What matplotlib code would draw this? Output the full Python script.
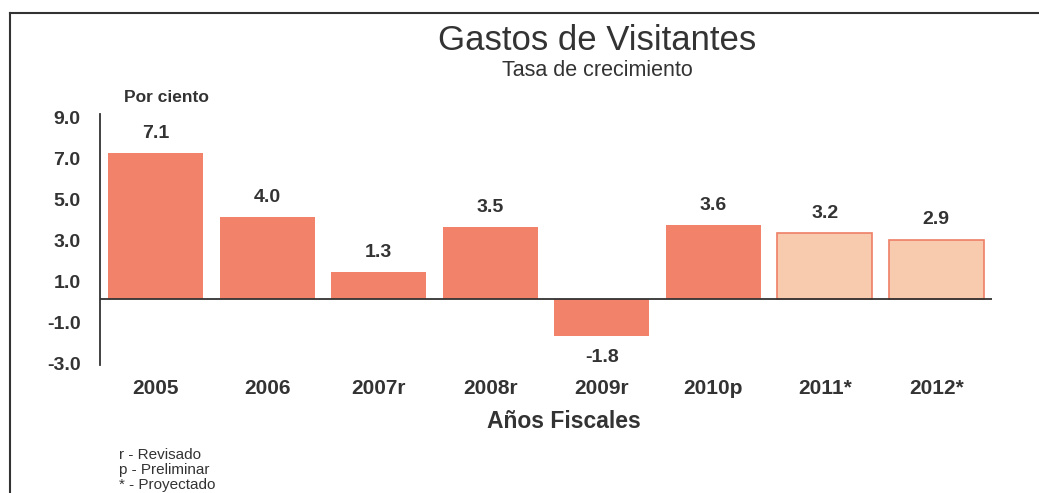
import numpy as np
import matplotlib
matplotlib.use("Agg")
import matplotlib.pyplot as plt
from matplotlib.transforms import ScaledTranslation

plt.rcParams['font.family'] = ['Liberation Sans', 'DejaVu Sans']

# data
years = ["2005", "2006", "2007r", "2008r", "2009r", "2010p", "2011*", "2012*"]
growth = [7.1, 4.0, 1.3, 3.5, -1.8, 3.6, 3.2, 2.9]
projected = [False, False, False, False, False, False, True, True]
yticks = [9.0, 7.0, 5.0, 3.0, 1.0, -1.0, -3.0]
notes = ["r - Revisado", "p - Preliminar", "* - Proyectado"]

W, H = 1039, 493
fig = plt.figure(figsize=(W / 100, H / 100), dpi=100)
fig.patch.set_facecolor("white")

# frame around the chart (only top and left edges visible)
fig.add_artist(plt.Line2D([10 / W, 10 / W], [0, 1 - 13 / H], color="#333333", lw=1.5))
fig.add_artist(plt.Line2D([10 / W, 1], [1 - 13 / H, 1 - 13 / H], color="#333333", lw=1.5))

# axes placed in pixel space: x 100..992, y 114..365
ax = fig.add_axes([100 / W, 1 - 365 / H, (992 - 100) / W, (365 - 114) / H])
ax.set_xlim(-0.5, len(years) - 0.5)
ax.set_ylim(-3.2, 9)

txt = "#333333"
x = np.arange(len(years))
for i, (v, p) in enumerate(zip(growth, projected)):
    if p:
        ax.bar(x[i], v, width=0.85, color="#F9CBAE", edgecolor="#EE7F66", lw=1.2, zorder=2)
    else:
        ax.bar(x[i], v, width=0.85, color="#F2836A", edgecolor="none", zorder=2)
    if v >= 0:
        ax.annotate(f"{v:.1f}", (x[i], v), xytext=(0, 8), textcoords="offset points",
                    ha="center", va="bottom", fontsize=14, fontweight="bold", color=txt)
    else:
        ax.annotate(f"{v:.1f}", (x[i], v), xytext=(0, -9), textcoords="offset points",
                    ha="center", va="top", fontsize=14, fontweight="bold", color=txt)

ax.axhline(0, color="#333333", lw=1.3, zorder=3)

for s in ["top", "right", "bottom"]:
    ax.spines[s].set_visible(False)
ax.spines["left"].set_color("#333333")
ax.spines["left"].set_linewidth(1.3)

ax.set_yticks(yticks)
ax.set_yticklabels([f"{t:.1f}" for t in yticks], fontsize=14, fontweight="bold", color=txt)
ax.tick_params(axis="y", length=0, pad=14)
shift = ScaledTranslation(0, -3 / 100, fig.dpi_scale_trans)
for lab in ax.get_yticklabels():
    lab.set_transform(lab.get_transform() + shift)
ax.set_xticks(x)
ax.set_xticklabels(years, fontsize=15, fontweight="bold", color=txt)
ax.tick_params(axis="x", length=0, pad=10)

fig.text(597 / W, 1 - 41 / H, "Gastos de Visitantes", ha="center", va="center",
         fontsize=25, color=txt)
fig.text(597 / W, 1 - 71 / H, "Tasa de crecimiento", ha="center", va="center",
         fontsize=15.5, color=txt)
fig.text(124 / W, 1 - 98 / H, "Por ciento", ha="left", va="center",
         fontsize=12.5, fontweight="bold", color=txt)
fig.text(564 / W, 1 - 421 / H, "Años Fiscales", ha="center", va="center",
         fontsize=16.5, fontweight="bold", color=txt)
for k, n in enumerate(notes):
    fig.text(119 / W, 1 - (455 + 15 * k) / H, n, ha="left", va="center",
             fontsize=11, color=txt)

fig.savefig("out.png", dpi=100)
